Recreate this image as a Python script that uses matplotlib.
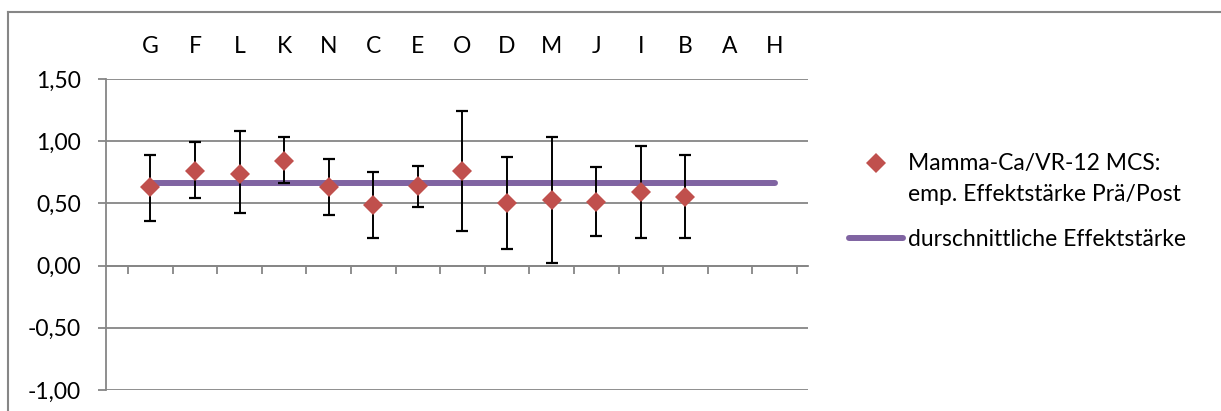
import numpy as np
import matplotlib.pyplot as plt
from matplotlib.lines import Line2D

# Einrichtungen (Reihenfolge wie im Original)
kategorien = ["G", "F", "L", "K", "N", "C", "E", "O", "D", "M", "J", "I", "B", "A", "H"]
effekt = [0.63, 0.76, 0.74, 0.84, 0.63, 0.49, 0.64, 0.76, 0.50, 0.53, 0.51, 0.59, 0.55, np.nan, np.nan]
ki_unten = [0.36, 0.54, 0.42, 0.66, 0.41, 0.22, 0.47, 0.28, 0.13, 0.02, 0.24, 0.22, 0.22, np.nan, np.nan]
ki_oben = [0.89, 0.99, 1.08, 1.03, 0.86, 0.75, 0.80, 1.24, 0.87, 1.03, 0.79, 0.96, 0.89, np.nan, np.nan]
mittel = 0.66
y_ticks = [-1.0, -0.5, 0.0, 0.5, 1.0, 1.5]

GRAU = "#868686"
ROT = "#C0504D"
LILA = "#8064A2"

plt.rcParams['font.family'] = ['Lato', 'DejaVu Sans']
plt.rcParams['font.size'] = 16.5

fig = plt.figure(figsize=(12.21, 4.11), dpi=100)
ax = fig.add_axes([0.0866, 0.0511, 0.5752, 0.7567])

x = np.arange(1, len(kategorien) + 1)
eff = np.array(effekt)
err = [eff - np.array(ki_unten), np.array(ki_oben) - eff]

ax.plot(x, [mittel] * len(x), color=LILA, lw=4.3, solid_capstyle='round', zorder=2,
        label="durschnittliche Effektstärke")
ax.errorbar(x, eff, yerr=err, fmt='none', ecolor='black', elinewidth=1.4,
            capsize=4.5, capthick=1.6, zorder=3)
ax.plot(x, eff, 'D', color=ROT, ms=10.5, mew=0, zorder=4,
        label="Mamma-Ca/VR-12 MCS:\nemp. Effektstärke Prä/Post")

ax.set_xlim(0, 15.75)
ax.set_ylim(-1.0, 1.5)
ax.set_yticks(y_ticks)
ax.set_yticklabels([f"{v:.2f}".replace(".", ",") for v in y_ticks])
ax.yaxis.grid(True, color=GRAU, lw=1.3)
ax.set_axisbelow(True)

ax.set_xticks(x)
ax.set_xticklabels(kategorien)
ax.set_xticks(np.arange(0.5, 16, 1), minor=True)
ax.tick_params(axis='x', which='major', bottom=False, top=False, labelbottom=False,
               labeltop=True, length=0, pad=16)
ax.tick_params(axis='x', which='minor', bottom=True, top=False, length=6,
               color=GRAU, width=1.3, direction='out')
ax.tick_params(axis='y', length=6, color=GRAU, width=1.3, pad=12)

for s in ['top', 'right']:
    ax.spines[s].set_visible(False)
ax.spines['bottom'].set_position(('data', 0))
ax.spines['bottom'].set_color(GRAU)
ax.spines['bottom'].set_linewidth(1.3)
ax.spines['left'].set_color(GRAU)
ax.spines['left'].set_linewidth(1.3)

h, l = ax.get_legend_handles_labels()
leg = fig.legend(h[::-1], l[::-1], loc='upper left', bbox_to_anchor=(0.688, 0.651),
                 frameon=False, handlelength=2.35, handletextpad=0.2, labelspacing=1.05,
                 borderaxespad=0)
leg.get_texts()[0].set_linespacing(1.6)
# Marker auf Höhe der ersten Textzeile
mk = leg.legend_handles[0]
mk.set_ydata(np.asarray(mk.get_ydata()) + 11.5)

# Rahmen
fig.add_artist(Line2D([8 / 1221, 8 / 1221], [0, 1 - 12 / 411], color=GRAU, lw=1.5))
fig.add_artist(Line2D([8 / 1221, 1], [1 - 12 / 411, 1 - 12 / 411], color=GRAU, lw=1.5))

fig.savefig("out.png", dpi=100)
